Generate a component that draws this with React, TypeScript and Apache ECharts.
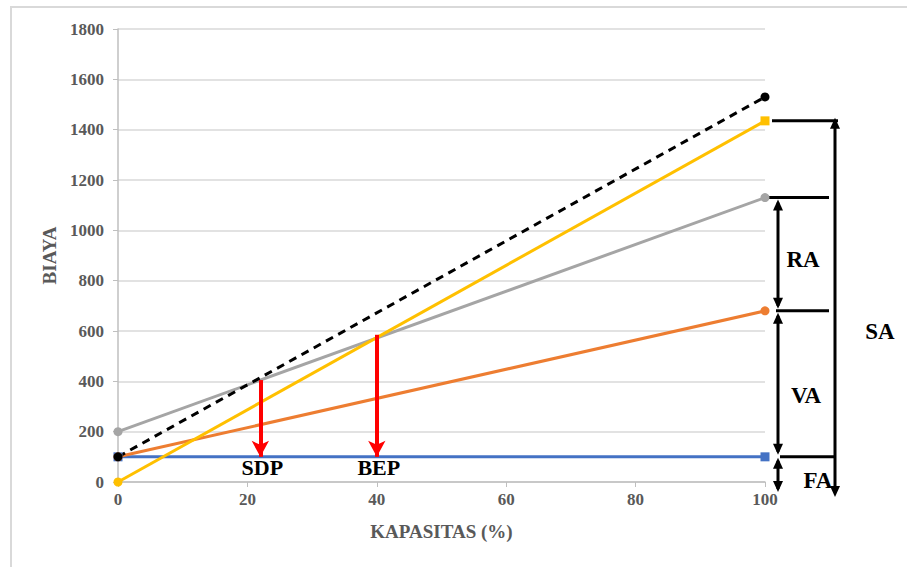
import React, { useEffect, useRef } from "react";
import * as echarts from "echarts";

// Capacity (%) at the two end points of every line
const capacity = [0, 100];
// Cost / revenue values at capacity 0 and 100
const fixedCost = [100, 100]; // blue  (FA)
const variableCost = [100, 680]; // orange
const totalCost = [200, 1130]; // gray
const revenue = [0, 1435]; // yellow
const salesLine = [100, 1530]; // black dashed

// Red marker arrows (SDP, BEP)
const markerLabels = ["SDP", "BEP"];
const markerX = [22, 40];
const markerTop = [405, 585];
const markerBottom = [100, 100];

// Right-hand bracket labels
const bracketLabels = ["RA", "VA", "SA", "FA"];

const SERIF = "Liberation Serif, Times New Roman, serif";

function pts(ys: number[], endSymbols?: string[]) {
  return capacity.map((x, i) =>
    endSymbols ? { value: [x, ys[i]], symbol: endSymbols[i] } : [x, ys[i]]
  );
}

export default function App() {
  const ref = useRef<HTMLDivElement>(null);
  useEffect(() => {
    if (!ref.current) return;
    const chart = echarts.init(ref.current, null, { renderer: "svg" });
    const lineSeries = (name: string, data: any[], color: string, extra: any = {}) => ({
      name,
      type: "line",
      data,
      symbol: "circle",
      symbolSize: 9,
      showSymbol: true,
      itemStyle: { color },
      lineStyle: { color, width: 3 },
      silent: true,
      ...extra,
    });
    chart.setOption({
      animation: false,
      textStyle: { fontFamily: SERIF },
      grid: { left: 118, right: 142, top: 29, bottom: 85 },
      xAxis: {
        type: "value",
        min: 0,
        max: 100,
        interval: 20,
        name: "KAPASITAS (%)",
        nameLocation: "middle",
        nameGap: 40,
        nameTextStyle: { fontFamily: SERIF, fontWeight: "bold", fontSize: 19, color: "#595959" },
        axisLine: { show: true, lineStyle: { color: "#bfbfbf", width: 1.5 } },
        axisTick: { show: true, length: 5, lineStyle: { color: "#bfbfbf" } },
        splitLine: { show: false },
        axisLabel: {
          fontFamily: SERIF,
          fontWeight: "bold",
          fontSize: 17,
          color: "#595959",
          margin: 9,
          formatter: (v: number) => String(v),
        },
      },
      yAxis: {
        type: "value",
        min: 0,
        max: 1800,
        interval: 200,
        name: "BIAYA",
        nameLocation: "middle",
        nameGap: 58,
        nameTextStyle: { fontFamily: SERIF, fontWeight: "bold", fontSize: 19, color: "#595959" },
        axisLine: { show: true, lineStyle: { color: "#bfbfbf", width: 1.5 } },
        axisTick: { show: true, length: 5, lineStyle: { color: "#bfbfbf" } },
        splitLine: { show: true, lineStyle: { color: "#d9d9d9", width: 1.5 } },
        axisLabel: {
          fontFamily: SERIF,
          fontWeight: "bold",
          fontSize: 17,
          color: "#595959",
          margin: 14,
          formatter: (v: number) => String(v),
        },
      },
      series: [
        lineSeries("Biaya Tetap", pts(fixedCost), "#4472c4", {
          symbol: "rect",
          markLine: {
            silent: true,
            symbol: ["none", "arrow"],
            symbolSize: [13, 16],
            label: { show: false },
            lineStyle: { color: "#ff0000", width: 4, type: "solid" },
            data: markerX.map((x, i) => [
              { coord: [x, markerTop[i]] },
              { coord: [x, markerBottom[i]] },
            ]),
          },
        }),
        lineSeries("Biaya Variabel", pts(variableCost), "#ed7d31"),
        lineSeries("Biaya Total", pts(totalCost), "#a5a5a5"),
        lineSeries("Pendapatan", pts(revenue, ["circle", "rect"]), "#ffc000"),
        lineSeries("Penjualan", pts(salesLine), "#000000", {
          lineStyle: { color: "#000000", width: 3, type: [8, 6] },
          z: 3,
        }),
      ],
    });

    const px = (x: number, y: number) => chart.convertToPixel({ gridIndex: 0 }, [x, y]) as number[];
    const R = px(100, 0)[0];
    const y0 = px(0, 0)[1];
    const yY = px(0, revenue[1])[1];
    const yG = px(0, totalCost[1])[1];
    const yO = px(0, variableCost[1])[1];
    const yB = px(0, fixedCost[1])[1];

    const stroke = { stroke: "#000", lineWidth: 3 };
    const hline = (y: number, x1: number, x2: number) => ({
      type: "line",
      shape: { x1, y1: y, x2, y2: y },
      style: stroke,
      silent: true,
    });
    const vline = (x: number, y1: number, y2: number) => ({
      type: "line",
      shape: { x1: x, y1, x2: x, y2 },
      style: stroke,
      silent: true,
    });
    const head = (x: number, tip: number, up: boolean) => {
      const d = up ? 11 : -11;
      return {
        type: "polygon",
        shape: { points: [[x, tip], [x - 5, tip + d], [x + 5, tip + d]] },
        style: { fill: "#000" },
        silent: true,
      };
    };
    const dbl = (x: number, a: number, b: number) => [vline(x, a + 3, b - 3), head(x, a, true), head(x, b, false)];
    const label = (t: string, x: number, y: number, size = 23) => ({
      type: "text",
      x,
      y,
      style: {
        text: t,
        fontFamily: SERIF,
        fontWeight: "bold",
        fontSize: size,
        fill: "#000",
        align: "center",
        verticalAlign: "middle",
      },
      silent: true,
    });

    const vx = R + 13;
    const sx = R + 70;
    const graphic: any[] = [
      {
        type: "polyline",
        shape: { points: [[11, 567], [11, 7], [907, 7]] },
        style: { stroke: "#d9d9d9", lineWidth: 2, fill: "none" },
        silent: true,
      },
      hline(yY, R + 7, R + 73),
      hline(yG, R + 3, R + 64),
      hline(yO, R + 11, R + 64),
      hline(yB, R + 15, R + 70),
      vline(sx, yY + 3, y0 + 4),
      head(sx, yY - 3, true),
      head(sx, y0 + 15, false),
      ...dbl(vx, yG + 2, yO - 2),
      ...dbl(vx, yO + 2, yB - 2),
      ...dbl(vx, yB + 1, y0 + 10),
      label(bracketLabels[0], R + 38, (yG + yO) / 2 + 5),
      label(bracketLabels[1], R + 41, (yO + yB) / 2 + 12),
      label(bracketLabels[2], R + 115, px(0, 600)[1]),
      label(bracketLabels[3], R + 53, y0 - 2),
    ];
    markerX.forEach((x, i) => {
      const p = px(x, markerBottom[i]);
      graphic.push(label(markerLabels[i], p[0] + 2, p[1] + 11, 22));
    });
    chart.setOption({ graphic });

    return () => chart.dispose();
  }, []);
  return (
    <div
      ref={ref}
      style={{ position: "fixed", left: 0, top: 0, width: 907, height: 567, background: "#fff" }}
    />
  );
}
